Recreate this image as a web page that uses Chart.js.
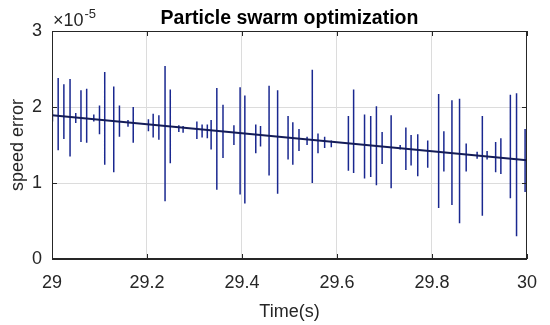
<!DOCTYPE html>
<html><head><meta charset="utf-8">
<script src="https://cdn.jsdelivr.net/npm/chart.js@4/dist/chart.umd.min.js"></script>
<style>html,body{margin:0;padding:0;background:#fff}canvas{display:block}</style>
</head><body><canvas id="c" width="550" height="325"></canvas>
<script>
// ---- data (values in units of 1e-5) ----
const spikeTimes = [29.001,29.013,29.025,29.038,29.050,29.061,29.073,29.088,29.100,29.111,29.130,29.142,29.160,29.171,
  29.203,29.213,29.225,29.238,29.249,29.267,29.276,29.305,29.316,29.327,29.335,29.347,29.360,29.383,29.396,29.406,
  29.429,29.439,29.457,29.475,29.497,29.507,29.520,29.537,29.548,29.560,29.574,29.588,29.624,29.635,29.658,29.671,
  29.683,29.695,29.714,29.733,29.745,29.756,29.770,29.791,29.814,29.825,29.842,29.858,29.872,29.895,29.906,29.916,
  29.934,29.945,29.965,29.978,29.996];
const spikeHigh = [1.96,2.38,2.30,2.37,1.92,2.22,2.24,1.90,2.02,2.46,2.27,2.02,1.83,2.00,
  1.84,1.91,1.89,2.54,2.23,1.76,1.75,1.81,1.77,1.77,1.83,2.25,2.03,1.76,2.26,2.15,
  1.77,1.75,2.28,2.22,1.88,1.80,1.71,1.61,2.49,1.65,1.61,1.56,1.88,2.23,1.90,1.88,
  2.01,1.67,1.89,1.50,1.73,1.63,1.64,1.56,2.17,1.68,2.09,2.11,1.52,1.41,1.88,1.42,
  1.54,1.59,2.16,2.18,1.71];
const spikeLow = [1.81,1.43,1.58,1.35,1.79,1.54,1.53,1.81,1.64,1.24,1.14,1.61,1.74,1.53,
  1.68,1.60,1.57,0.76,1.26,1.67,1.66,1.58,1.60,1.59,1.44,0.91,1.33,1.50,0.85,0.73,
  1.39,1.48,1.10,0.86,1.31,1.24,1.42,1.50,1.00,1.39,1.46,1.47,1.16,1.13,1.06,1.08,
  0.97,1.25,0.93,1.44,1.17,1.23,1.09,1.20,0.67,1.15,0.71,0.47,1.15,1.32,0.57,1.31,
  1.14,1.12,0.80,0.30,0.88];
const trendTimes = [29, 30];
const trendValues = [1.89, 1.30];
const xTickValues = [29, 29.2, 29.4, 29.6, 29.8, 30];
const yTickValues = [0, 1, 2, 3];
const titleText = 'Particle swarm optimization';
const xLabel = 'Time(s)';
const yLabel = 'speed error';
const yExponent = '-5';

// ---- build tables ----
const spikePoints = [];
spikeTimes.forEach((t, i) => {
  spikePoints.push({x: t, y: spikeHigh[i]}, {x: t, y: spikeLow[i]}, {x: t, y: null});
});
const trendPoints = trendTimes.map((t, i) => ({x: t, y: trendValues[i]}));

const FONT = '"Liberation Sans", Arial, Helvetica, sans-serif';
const AXIS = '#262626';

const frame = {
  id: 'frame',
  afterDraw(chart) {
    const {ctx, chartArea: a, scales: {x, y}} = chart;
    ctx.save();
    ctx.strokeStyle = AXIS; ctx.lineWidth = 1;
    ctx.strokeRect(a.left + 0.5, a.top + 0.5, a.right - a.left - 1, a.bottom - a.top - 1);
    ctx.beginPath();
    const L = 5;
    xTickValues.forEach(v => {
      const px = Math.round(x.getPixelForValue(v)) + 0.5;
      ctx.moveTo(px, a.bottom); ctx.lineTo(px, a.bottom - L);
      ctx.moveTo(px, a.top); ctx.lineTo(px, a.top + L);
    });
    yTickValues.forEach(v => {
      const py = Math.round(y.getPixelForValue(v)) + 0.5;
      ctx.moveTo(a.left, py); ctx.lineTo(a.left + L, py);
      ctx.moveTo(a.right, py); ctx.lineTo(a.right - L, py);
    });
    ctx.stroke();
    // title
    ctx.fillStyle = '#000';
    ctx.textAlign = 'center'; ctx.textBaseline = 'alphabetic';
    ctx.font = 'bold 19.5px ' + FONT;
    ctx.fillText(titleText, (a.left + a.right) / 2, 23.5);
    // exponent
    ctx.fillStyle = AXIS;
    ctx.textAlign = 'left';
    ctx.font = '18px ' + FONT;
    const base = '\u00d710';
    ctx.fillText(base, a.left + 1, 26);
    const w = ctx.measureText(base).width;
    ctx.font = '13px ' + FONT;
    ctx.fillText(yExponent, a.left + 1 + w + 1, 17.5);
    ctx.restore();
  }
};

new Chart(document.getElementById('c'), {
  type: 'line',
  data: {
    datasets: [
      {data: trendPoints, borderColor: '#141c58', borderWidth: 2, pointRadius: 0, tension: 0},
      {data: spikePoints, borderColor: '#1a2890', borderWidth: 1.5, pointRadius: 0, tension: 0, spanGaps: false}
    ]
  },
  options: {
    responsive: false, animation: false, devicePixelRatio: 1,
    layout: {padding: {top: 31, right: 19, left: 0, bottom: 0}},
    plugins: {legend: {display: false}, tooltip: {enabled: false}, title: {display: false}},
    scales: {
      x: {
        type: 'linear', min: 29, max: 30, offset: false,
        afterBuildTicks: s => { s.ticks = xTickValues.map(v => ({value: v})); },
        afterFit: s => { s.height = 66; },
        grid: {color: '#dcdcdc', lineWidth: 1, drawTicks: false},
        border: {display: true, color: AXIS},
        ticks: {color: AXIS, font: {family: FONT, size: 18}, padding: 13, maxRotation: 0, autoSkip: false,
                callback: v => String(Number(v.toFixed(1)))},
        title: {display: true, text: xLabel, color: AXIS, font: {family: FONT, size: 18}, padding: {top: 0, bottom: 2.5}}
      },
      y: {
        type: 'linear', min: 0, max: 3,
        afterBuildTicks: s => { s.ticks = yTickValues.map(v => ({value: v})); },
        afterFit: s => { s.width = 52; },
        grid: {color: '#dcdcdc', lineWidth: 1, drawTicks: false},
        border: {display: true, color: AXIS},
        ticks: {color: AXIS, font: {family: FONT, size: 18}, padding: 10, callback: v => String(v)},
        title: {display: true, text: yLabel, color: AXIS, font: {family: FONT, size: 18}, padding: {top: 7, bottom: 0}}
      }
    }
  },
  plugins: [frame]
});
</script>
</body></html>
